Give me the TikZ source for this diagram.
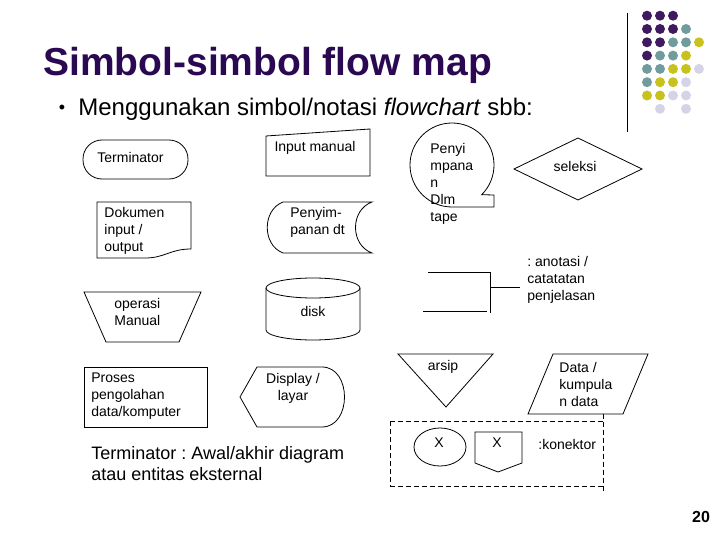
\documentclass[tikz,border=0pt]{standalone}
\usepackage{fontspec}
\setmainfont{Liberation Sans}
\frenchspacing
\definecolor{titlecol}{RGB}{42,8,82}
\definecolor{dotP}{RGB}{64,26,96}
\definecolor{dotT}{RGB}{112,156,158}
\definecolor{dotY}{RGB}{200,194,30}
\definecolor{dotL}{RGB}{212,212,230}
\begin{document}
\begin{tikzpicture}[x=1pt,y=-1pt,line width=0.8pt,
  lbl/.style={font=\fontsize{14}{17}\selectfont,inner sep=0pt,align=left},
  lblc/.style={font=\fontsize{14}{17}\selectfont,inner sep=0pt,align=center},
  dashbox/.style={dash pattern=on 5pt off 3pt}]
\useasboundingbox (0,0) rectangle (720,540);
% decoration
\draw[line width=1pt] (627,13) -- (627,132);
\foreach \c/\r/\k in {0/0/dotP,1/0/dotP,2/0/dotP,
  0/1/dotP,1/1/dotP,2/1/dotP,3/1/dotT,
  0/2/dotP,1/2/dotP,2/2/dotT,3/2/dotT,4/2/dotY,
  0/3/dotP,1/3/dotT,2/3/dotT,3/3/dotY,
  0/4/dotT,1/4/dotT,2/4/dotY,3/4/dotY,4/4/dotL,
  0/5/dotT,1/5/dotY,2/5/dotY,3/5/dotL,
  0/6/dotY,1/6/dotY,2/6/dotL,3/6/dotL,
  1/7/dotL,3/7/dotL}
  \fill[\k] ({647+13*\c},{15.7+13.3*\r}) circle[radius=5];
% title
\node[anchor=base west,inner sep=0pt,text=titlecol,font=\fontsize{39}{45}\selectfont\bfseries] (title) at (43,76) {Simbol-simbol flow map};
\node[inner sep=0pt,font=\fontsize{18}{22}\selectfont] (bullet) at (62,109) {•};
\node[anchor=base west,inner sep=0pt,font=\fontsize{24}{28}\selectfont] (sub) at (78,116) {Menggunakan simbol/notasi \textit{flowchart} sbb:};
% terminator
\draw[rounded corners=19pt] (83,140) rectangle (188,179);
\node[lbl] (tTerm) at (130.5,157) {Terminator};
% input manual
\draw (266,136) -- (370,129) -- (370,176) -- (266,176) -- cycle;
\node[lbl] (tInput) at (315,148) {Input manual};
% dokumen
\draw (97,258) -- (97,202) -- (191,202) -- (191,249) .. controls (170,249) and (165,258) .. (145,258) -- cycle;
\node[lbl,anchor=west] (tDok) at (104,231) {Dokumen\\input /\\output};
% penyimpanan dt
\draw (283,202) -- (372,202) .. controls (350,210) and (350,245) .. (372,253) -- (283,253) .. controls (262,245) and (262,210) .. (283,202) -- cycle;
\node[lbl,anchor=west] (tPenyim) at (290,222.5) {Penyim-\\panan dt};
% tape
\draw (452,165) ++(45:42) arc[start angle=45,end angle=-270,radius=42] -- (494,207) -- (494,195) -- cycle;
\node[lbl,anchor=west] (tTape) at (430,183.5) {Penyi\\mpana\\n\\Dlm\\tape};
% seleksi
\draw (514,169) -- (578,138) -- (642,169) -- (578,200) -- cycle;
\node[lbl] (tSel) at (575,166) {seleksi};
% operasi manual
\draw (84,292) -- (201,292) -- (179,342) -- (106,342) -- cycle;
\node[lbl,anchor=west] (tOper) at (114,311.5) {operasi\\Manual};
% disk
\draw (313,288) ellipse[x radius=47,y radius=10];
\draw (266,288) -- (266,330) arc[start angle=180,end angle=0,x radius=47,y radius=10] -- (360,288);
\node[lbl] (tDisk) at (313,311) {disk};
% annotation
\draw (428,272) -- (490,272) -- (490,313);
\draw (423,311) -- (487,311);
\draw (490,287) -- (520,287);
\node[lbl,anchor=west] (tAno) at (527,279.5) {: anotasi /\\catatatan\\penjelasan};
% proses
\draw (84,367) rectangle (207,427);
\node[lbl,anchor=west] (tProses) at (91,396) {Proses\\pengolahan\\data/komputer};
% display
\draw (240,397) -- (257,367) -- (322,367) .. controls (352,367) and (352,427) .. (322,427) -- (257,427) -- cycle;
\node[lblc] (tDisp) at (293,388.5) {Display /\\layar};
% arsip
\draw (398,354) -- (493,354) -- (446,407) -- cycle;
\node[lbl] (tArsip) at (443,367) {arsip};
% data
\draw (553,354) -- (648,354) -- (623,414) -- (528,414) -- cycle;
\node[lbl,anchor=west] (tData) at (559,384) {Data /\\kumpula\\n data};
% connector box
\draw[dashbox] (390,421) -- (603,421);
\draw[dashbox] (390,486) -- (603,486);
\draw[dashbox] (390,421) -- (390,486);
\draw[dashbox] (603,414) -- (603,492);
\draw (440,447) ellipse[x radius=26,y radius=19];
\node[lbl] (tX1) at (439,443) {X};
\draw (475,432) -- (522,432) -- (522,463) -- (498,472) -- (475,463) -- cycle;
\node[lbl] (tX2) at (497,443) {X};
\node[lbl,anchor=west] (tKon) at (538,444) {:konektor};
% terminator description
\node[anchor=west,inner sep=0pt,align=left,font=\fontsize{18}{21}\selectfont] (tDesc) at (91,463.5) {Terminator : Awal/akhir diagram\\atau entitas eksternal};
% page number
\node[inner sep=0pt,font=\fontsize{16}{19}\selectfont\bfseries] (page) at (701,517) {20};
\end{tikzpicture}
\end{document}
